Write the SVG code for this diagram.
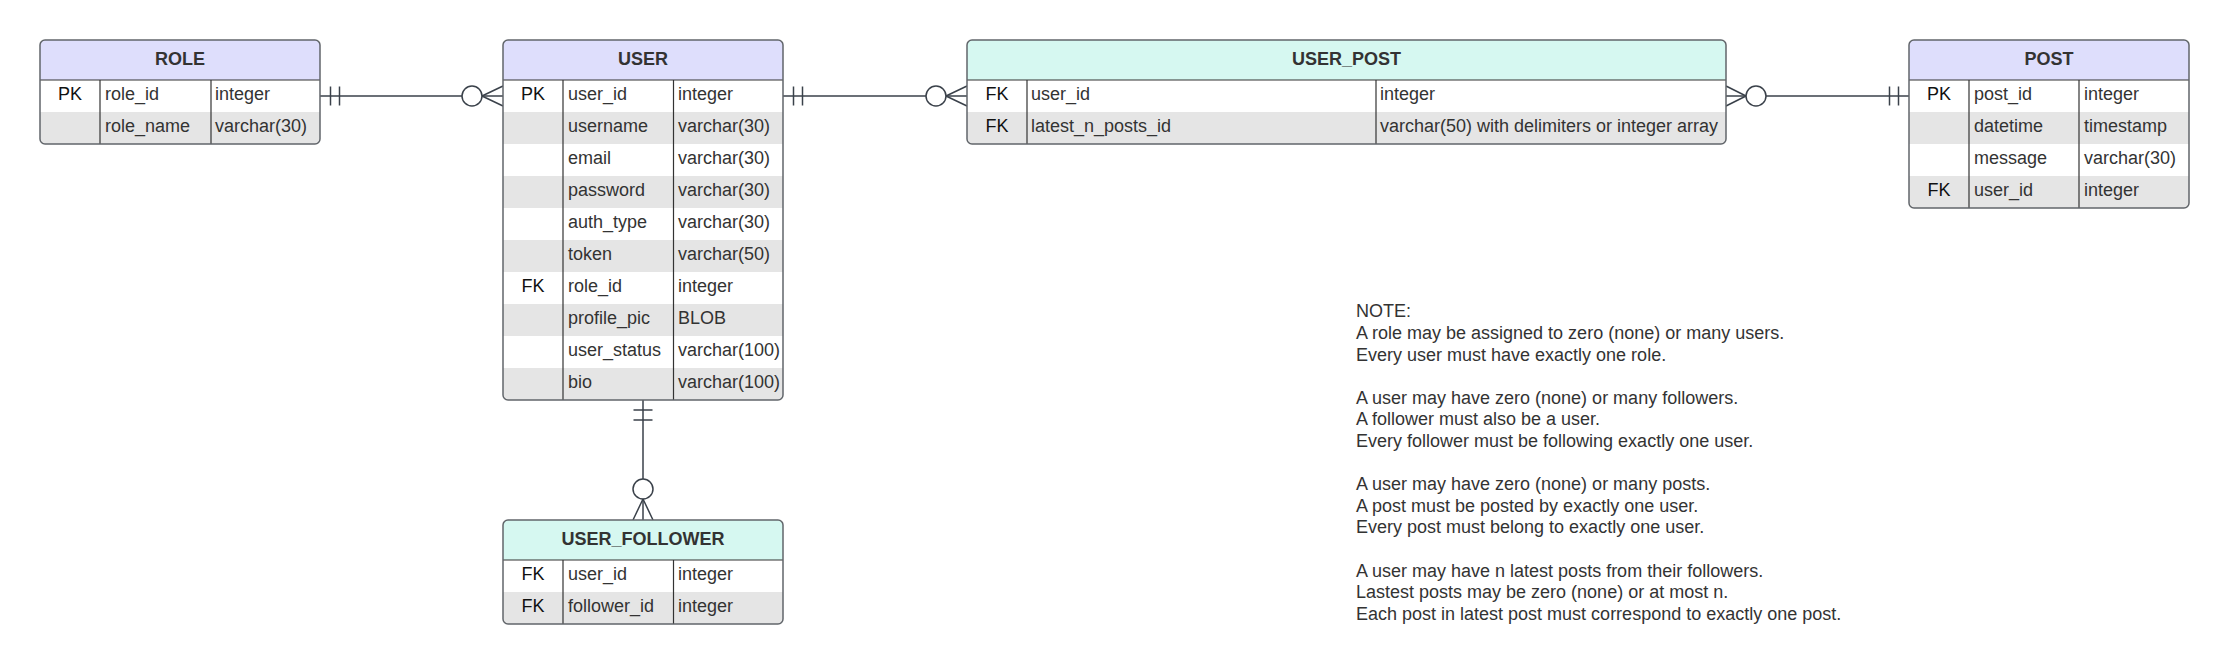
<svg xmlns="http://www.w3.org/2000/svg" width="2229" height="667" viewBox="0 0 2229 667">
<style>
.bg{fill:#ffffff}
.hp{fill:#dedefc}
.hm{fill:#d6f8f1}
.rw{fill:#ffffff}
.rg{fill:#e5e5e5}
.frame{fill:none;stroke:#62666b;stroke-width:1.5}
.in{stroke:#333333;stroke-width:1.2}
.ttl{font-family:"Liberation Sans",Arial,sans-serif;font-size:18px;font-weight:bold;fill:#333333;text-anchor:middle}
.key{font-family:"Liberation Sans",Arial,sans-serif;font-size:18px;fill:#111111;text-anchor:middle}
.txt{font-family:"Liberation Sans",Arial,sans-serif;font-size:18px;fill:#333333}
.con{fill:none;stroke:#3a414a;stroke-width:1.5}
.cir{fill:#ffffff;stroke:#3a414a;stroke-width:1.5}
.note{font-family:"Liberation Sans",Arial,sans-serif;font-size:18px;fill:#333333}
</style>
<defs>
<clipPath id="c-role"><rect x="40" y="40" width="280" height="104" rx="5"/></clipPath>
<clipPath id="c-user"><rect x="503" y="40" width="280" height="360" rx="5"/></clipPath>
<clipPath id="c-fol"><rect x="503" y="520" width="280" height="104" rx="5"/></clipPath>
<clipPath id="c-up"><rect x="967" y="40" width="759" height="104" rx="5"/></clipPath>
<clipPath id="c-post"><rect x="1909" y="40" width="280" height="168" rx="5"/></clipPath>
</defs>
<rect class="bg" x="0" y="0" width="2229" height="667"/>

<g id="connectors">
  <!-- ROLE - USER -->
  <line class="con" x1="320" y1="96" x2="503" y2="96"/>
  <line class="con" x1="330.5" y1="86.5" x2="330.5" y2="105.5"/>
  <line class="con" x1="339.5" y1="86.5" x2="339.5" y2="105.5"/>
  <circle class="cir" cx="472" cy="96" r="10"/>
  <path class="con" d="M482,96 L503,86 M482,96 L503,106"/>
  <!-- USER - USER_POST -->
  <line class="con" x1="783" y1="96" x2="967" y2="96"/>
  <line class="con" x1="793.5" y1="86.5" x2="793.5" y2="105.5"/>
  <line class="con" x1="802.5" y1="86.5" x2="802.5" y2="105.5"/>
  <circle class="cir" cx="936" cy="96" r="10"/>
  <path class="con" d="M946,96 L967,86 M946,96 L967,106"/>
  <!-- USER_POST - POST -->
  <line class="con" x1="1726" y1="96" x2="1909" y2="96"/>
  <line class="con" x1="1889.5" y1="86.5" x2="1889.5" y2="105.5"/>
  <line class="con" x1="1898.5" y1="86.5" x2="1898.5" y2="105.5"/>
  <circle class="cir" cx="1756" cy="96" r="10"/>
  <path class="con" d="M1746,96 L1726,86 M1746,96 L1726,106"/>
  <!-- USER - USER_FOLLOWER -->
  <line class="con" x1="643" y1="400" x2="643" y2="520"/>
  <line class="con" x1="633.5" y1="410" x2="652.5" y2="410"/>
  <line class="con" x1="633.5" y1="420" x2="652.5" y2="420"/>
  <circle class="cir" cx="643" cy="489" r="10"/>
  <path class="con" d="M643,499 L633,520 M643,499 L653,520"/>
</g>

<g id="role">
  <g clip-path="url(#c-role)">
    <rect class="hp" x="40" y="40" width="280" height="40"/>
    <rect class="rw" x="40" y="80" width="280" height="32"/>
    <rect class="rg" x="40" y="112" width="280" height="32"/>
  </g>
  <line class="in" x1="40" y1="80" x2="320" y2="80"/>
  <line class="in" x1="100" y1="80" x2="100" y2="144"/>
  <line class="in" x1="211" y1="80" x2="211" y2="144"/>
  <rect class="frame" x="40" y="40" width="280" height="104" rx="5"/>
  <text class="ttl" x="180" y="64.5">ROLE</text>
  <text class="key" x="70" y="99.5">PK</text>
  <text class="txt" x="105" y="99.5">role_id</text>
  <text class="txt" x="215" y="99.5">integer</text>
  <text class="txt" x="105" y="131.5">role_name</text>
  <text class="txt" x="215" y="131.5">varchar(30)</text>
</g>

<g id="user">
  <g clip-path="url(#c-user)">
    <rect class="hp" x="503" y="40" width="280" height="40"/>
    <rect class="rw" x="503" y="80" width="280" height="32"/>
    <rect class="rg" x="503" y="112" width="280" height="32"/>
    <rect class="rw" x="503" y="144" width="280" height="32"/>
    <rect class="rg" x="503" y="176" width="280" height="32"/>
    <rect class="rw" x="503" y="208" width="280" height="32"/>
    <rect class="rg" x="503" y="240" width="280" height="32"/>
    <rect class="rw" x="503" y="272" width="280" height="32"/>
    <rect class="rg" x="503" y="304" width="280" height="32"/>
    <rect class="rw" x="503" y="336" width="280" height="32"/>
    <rect class="rg" x="503" y="368" width="280" height="32"/>
  </g>
  <line class="in" x1="503" y1="80" x2="783" y2="80"/>
  <line class="in" x1="563" y1="80" x2="563" y2="400"/>
  <line class="in" x1="673.5" y1="80" x2="673.5" y2="400"/>
  <rect class="frame" x="503" y="40" width="280" height="360" rx="5"/>
  <text class="ttl" x="643" y="64.5">USER</text>
  <text class="key" x="533" y="99.5">PK</text>
  <text class="txt" x="568" y="99.5">user_id</text>
  <text class="txt" x="678" y="99.5">integer</text>
  <text class="txt" x="568" y="131.5">username</text>
  <text class="txt" x="678" y="131.5">varchar(30)</text>
  <text class="txt" x="568" y="163.5">email</text>
  <text class="txt" x="678" y="163.5">varchar(30)</text>
  <text class="txt" x="568" y="195.5">password</text>
  <text class="txt" x="678" y="195.5">varchar(30)</text>
  <text class="txt" x="568" y="227.5">auth_type</text>
  <text class="txt" x="678" y="227.5">varchar(30)</text>
  <text class="txt" x="568" y="259.5">token</text>
  <text class="txt" x="678" y="259.5">varchar(50)</text>
  <text class="key" x="533" y="291.5">FK</text>
  <text class="txt" x="568" y="291.5">role_id</text>
  <text class="txt" x="678" y="291.5">integer</text>
  <text class="txt" x="568" y="323.5">profile_pic</text>
  <text class="txt" x="678" y="323.5">BLOB</text>
  <text class="txt" x="568" y="355.5">user_status</text>
  <text class="txt" x="678" y="355.5">varchar(100)</text>
  <text class="txt" x="568" y="387.5">bio</text>
  <text class="txt" x="678" y="387.5">varchar(100)</text>
</g>

<g id="user_follower">
  <g clip-path="url(#c-fol)">
    <rect class="hm" x="503" y="520" width="280" height="40"/>
    <rect class="rw" x="503" y="560" width="280" height="32"/>
    <rect class="rg" x="503" y="592" width="280" height="32"/>
  </g>
  <line class="in" x1="503" y1="560" x2="783" y2="560"/>
  <line class="in" x1="563" y1="560" x2="563" y2="624"/>
  <line class="in" x1="673.5" y1="560" x2="673.5" y2="624"/>
  <rect class="frame" x="503" y="520" width="280" height="104" rx="5"/>
  <text class="ttl" x="643" y="544.5">USER_FOLLOWER</text>
  <text class="key" x="533" y="579.5">FK</text>
  <text class="txt" x="568" y="579.5">user_id</text>
  <text class="txt" x="678" y="579.5">integer</text>
  <text class="key" x="533" y="611.5">FK</text>
  <text class="txt" x="568" y="611.5">follower_id</text>
  <text class="txt" x="678" y="611.5">integer</text>
</g>

<g id="user_post">
  <g clip-path="url(#c-up)">
    <rect class="hm" x="967" y="40" width="759" height="40"/>
    <rect class="rw" x="967" y="80" width="759" height="32"/>
    <rect class="rg" x="967" y="112" width="759" height="32"/>
  </g>
  <line class="in" x1="967" y1="80" x2="1726" y2="80"/>
  <line class="in" x1="1027" y1="80" x2="1027" y2="144"/>
  <line class="in" x1="1376" y1="80" x2="1376" y2="144"/>
  <rect class="frame" x="967" y="40" width="759" height="104" rx="5"/>
  <text class="ttl" x="1346.5" y="64.5">USER_POST</text>
  <text class="key" x="997" y="99.5">FK</text>
  <text class="txt" x="1031" y="99.5">user_id</text>
  <text class="txt" x="1380" y="99.5">integer</text>
  <text class="key" x="997" y="131.5">FK</text>
  <text class="txt" x="1031" y="131.5">latest_n_posts_id</text>
  <text class="txt" x="1380" y="131.5">varchar(50) with delimiters or integer array</text>
</g>

<g id="post">
  <g clip-path="url(#c-post)">
    <rect class="hp" x="1909" y="40" width="280" height="40"/>
    <rect class="rw" x="1909" y="80" width="280" height="32"/>
    <rect class="rg" x="1909" y="112" width="280" height="32"/>
    <rect class="rw" x="1909" y="144" width="280" height="32"/>
    <rect class="rg" x="1909" y="176" width="280" height="32"/>
  </g>
  <line class="in" x1="1909" y1="80" x2="2189" y2="80"/>
  <line class="in" x1="1969" y1="80" x2="1969" y2="208"/>
  <line class="in" x1="2079" y1="80" x2="2079" y2="208"/>
  <rect class="frame" x="1909" y="40" width="280" height="168" rx="5"/>
  <text class="ttl" x="2049" y="64.5">POST</text>
  <text class="key" x="1939" y="99.5">PK</text>
  <text class="txt" x="1974" y="99.5">post_id</text>
  <text class="txt" x="2084" y="99.5">integer</text>
  <text class="txt" x="1974" y="131.5">datetime</text>
  <text class="txt" x="2084" y="131.5">timestamp</text>
  <text class="txt" x="1974" y="163.5">message</text>
  <text class="txt" x="2084" y="163.5">varchar(30)</text>
  <text class="key" x="1939" y="195.5">FK</text>
  <text class="txt" x="1974" y="195.5">user_id</text>
  <text class="txt" x="2084" y="195.5">integer</text>
</g>

<g id="note">
  <text class="note" x="1356" y="317.3">NOTE:</text>
  <text class="note" x="1356" y="338.9">A role may be assigned to zero (none) or many users.</text>
  <text class="note" x="1356" y="360.5">Every user must have exactly one role.</text>
  <text class="note" x="1356" y="403.7">A user may have zero (none) or many followers.</text>
  <text class="note" x="1356" y="425.3">A follower must also be a user.</text>
  <text class="note" x="1356" y="446.9">Every follower must be following exactly one user.</text>
  <text class="note" x="1356" y="490.1">A user may have zero (none) or many posts.</text>
  <text class="note" x="1356" y="511.7">A post must be posted by exactly one user.</text>
  <text class="note" x="1356" y="533.3">Every post must belong to exactly one user.</text>
  <text class="note" x="1356" y="576.5">A user may have n latest posts from their followers.</text>
  <text class="note" x="1356" y="598.1">Lastest posts may be zero (none) or at most n.</text>
  <text class="note" x="1356" y="619.7">Each post in latest post must correspond to exactly one post.</text>
</g>
</svg>
